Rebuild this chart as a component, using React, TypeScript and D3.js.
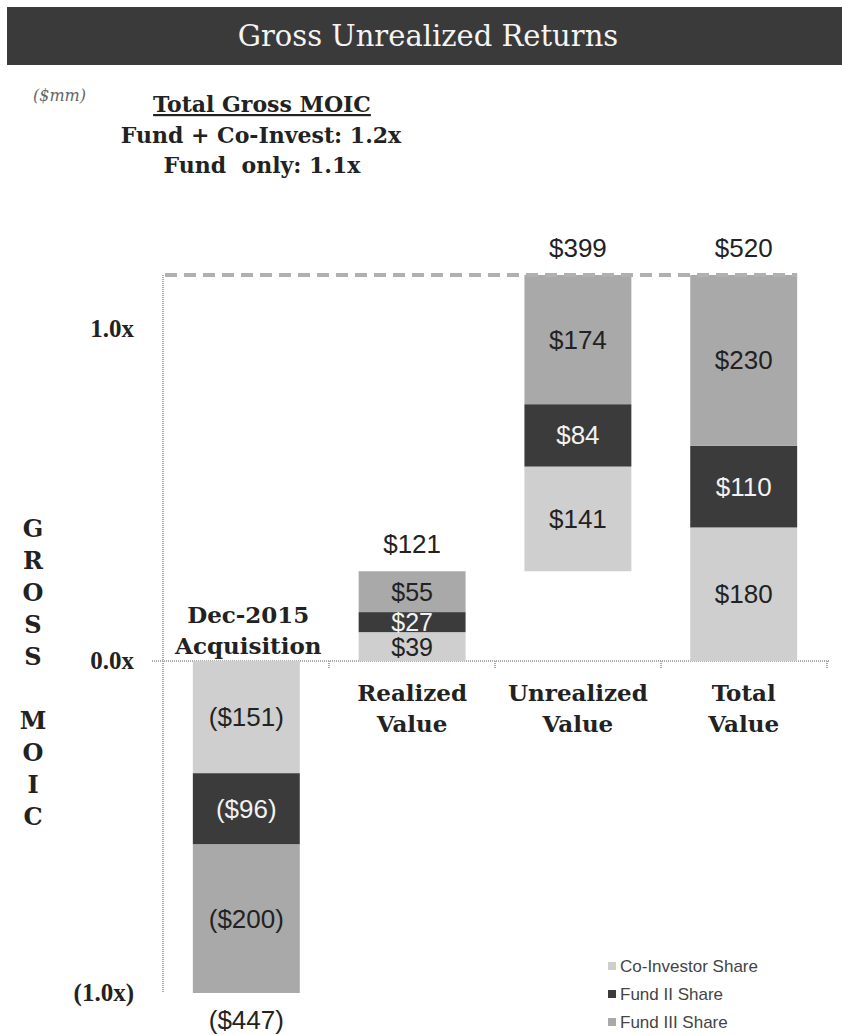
import React from "react";
import * as d3 from "d3";

const categories = [
  ["Dec-2015", "Acquisition"],
  ["Realized", "Value"],
  ["Unrealized", "Value"],
  ["Total", "Value"],
];
const coInvestor = [-151, 39, 141, 180];
const fundII = [-96, 27, 84, 110];
const fundIII = [-200, 55, 174, 230];
const starts = [0, 0, 121, 0];
const totals = [-447, 121, 399, 520];
const moicTicks = [-1, 0, 1];
const moicLabels = ["(1.0x)", "0.0x", "1.0x"];
const seriesNames = ["Co-Investor Share", "Fund II Share", "Fund III Share"];
const yTitle = "GROSS MOIC";

const W = 842;
const H = 1035;
const colors = ["#cfcfcf", "#3b3b3b", "#a9a9a9"];
const textColors = ["#222", "#f2f2f2", "#222"];
const serif = "'DejaVu Serif', serif";
const sans = "'Liberation Sans', Arial, sans-serif";

const fmt = (v: number) => (v < 0 ? `($${Math.abs(v)})` : `$${v}`);

export default function App() {
  const x = d3.scaleBand().domain(d3.range(4).map(String)).range([163, 827]).paddingInner(0.355).paddingOuter(0.18);
  const y = d3.scaleLinear().domain([-447, 520]).range([993, 275]);
  const unit = 447; // 1.0x MOIC in $mm
  const series = [coInvestor, fundII, fundIII];

  // stacked segments per category
  const segs: any[] = [];
  categories.forEach((_, i) => {
    let acc = starts[i];
    series.forEach((s, k) => {
      const v0 = acc;
      const v1 = acc + s[i];
      acc = v1;
      segs.push({ i, k, v0, v1, v: s[i] });
    });
  });

  const bw = x.bandwidth();
  const cx = (i: number) => (x(String(i)) as number) + bw / 2;
  const zeroY = y(0);

  return (
    <svg width={W} height={H} style={{ position: "absolute", left: 0, top: 0, background: "#fff" }}>
      {/* header bar */}
      <rect x={7} y={7} width={W - 7} height={58} fill="#3a3a3a" />
      <text x={428} y={46} textAnchor="middle" fill="#f4f4f4" fontFamily={serif} fontSize={29}>
        Gross Unrealized Returns
      </text>

      <text x={33} y={101} fill="#666" fontFamily={serif} fontStyle="italic" fontSize={16}>
        ($mm)
      </text>
      <g fontFamily={serif} fontWeight="bold" fill="#222" textAnchor="middle" fontSize={22}>
        <text x={262} y={112} textDecoration="underline">Total Gross MOIC</text>
        <text x={261} y={143}>Fund + Co-Invest: 1.2x</text>
        <text x={262} y={173} xmlSpace="preserve">Fund  only: 1.1x</text>
      </g>

      {/* axes */}
      <line x1={163} x2={163} y1={275} y2={993} stroke="#aaa" strokeWidth={2} strokeDasharray="1 1" />
      <line x1={152} x2={830} y1={zeroY} y2={zeroY} stroke="#aaa" strokeWidth={2} strokeDasharray="1 1" />
      {d3.range(1, 5).map((j) => {
        const xx = 163 + ((827 - 163) / 4) * j;
        return <line key={j} x1={xx} x2={xx} y1={zeroY} y2={zeroY + 8} stroke="#aaa" strokeWidth={2} strokeDasharray="1 1" />;
      })}
      {moicTicks.map((t, j) => (
        <text key={t} x={134} y={y(t * unit) + 8} textAnchor="end" fontFamily="'Liberation Serif', serif" fontWeight="bold" fontSize={25} fill="#222">
          {moicLabels[j]}
        </text>
      ))}
      <g fontFamily={serif} fontWeight="bold" fontSize={24} fill="#222" textAnchor="middle">
        {yTitle.split("").map((ch, j) => (
          <text key={j} x={33} y={528 + j * 32 + 9}>
            {ch}
          </text>
        ))}
      </g>

      {/* bars */}
      {segs.map((d, j) => (
        <rect
          key={j}
          x={x(String(d.i))}
          width={bw}
          y={y(Math.max(d.v0, d.v1))}
          height={Math.abs(y(d.v0) - y(d.v1))}
          fill={colors[d.k]}
        />
      ))}
      {/* max reference line */}
      <line x1={165} x2={(x("3") as number) + bw} y1={y(520)} y2={y(520)} stroke="#b0b0b0" strokeWidth={4} strokeDasharray="12 7" />

      {segs.map((d, j) => (
        <text
          key={j}
          x={cx(d.i)}
          y={y((d.v0 + d.v1) / 2) + 9}
          textAnchor="middle"
          fontFamily={sans}
          fontSize={d.i === 1 ? 25 : 26}
          fill={textColors[d.k]}
        >
          {fmt(d.v)}
        </text>
      ))}
      {totals.map((t, i) => (
        <text
          key={i}
          x={cx(i)}
          y={t < 0 ? y(t + starts[i]) + 36 : y(t + starts[i]) - 18}
          textAnchor="middle"
          fontFamily={sans}
          fontSize={26}
          fill="#222"
        >
          {fmt(t)}
        </text>
      ))}

      {/* category labels */}
      <g fontFamily={serif} fontWeight="bold" fontSize={23} fill="#222" textAnchor="middle">
        {categories.map((c, i) => {
          const above = totals[i] < 0;
          const y0 = above ? zeroY - 38 : zeroY + 40;
          return (
            <text key={i} x={cx(i) + (above ? 2 : 0)}>
              <tspan x={cx(i) + (above ? 2 : 0)} y={y0}>{c[0]}</tspan>
              <tspan x={cx(i) + (above ? 2 : 0)} y={y0 + 31}>{c[1]}</tspan>
            </text>
          );
        })}
      </g>

      {/* legend */}
      {seriesNames.map((n, k) => (
        <g key={n} transform={`translate(608, ${966 + k * 28})`}>
          <rect x={0} y={-4} width={8} height={8} fill={colors[k]} />
          <text x={12} y={6} fontFamily={sans} fontSize={17} fill="#444">
            {n}
          </text>
        </g>
      ))}
    </svg>
  );
}
